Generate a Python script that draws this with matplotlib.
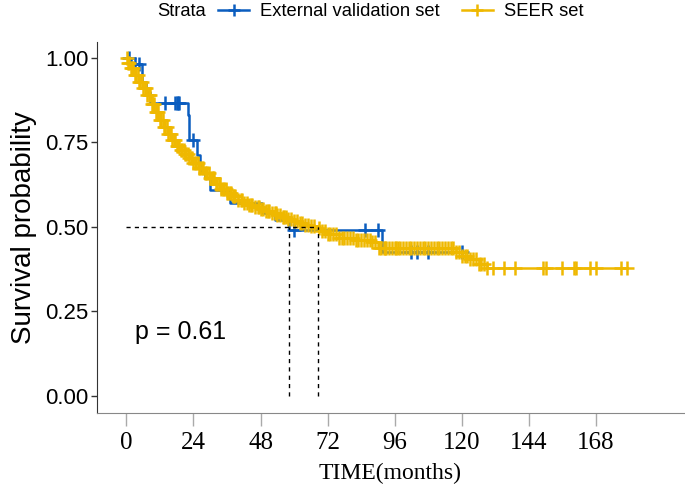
import numpy as np
import matplotlib
matplotlib.use("Agg")
import matplotlib.pyplot as plt
from matplotlib.lines import Line2D

# Kaplan-Meier steps (months, survival probability)
ext_times = [0, 1.5, 5.5, 7, 8.3, 21.9, 22.5, 25.2, 26.2, 28, 30, 37, 48.5, 53, 58.1, 91.5]
ext_surv = [1.0, 0.982, 0.93, 0.90, 0.868, 0.83, 0.757, 0.713, 0.663, 0.645, 0.61, 0.571, 0.541, 0.52, 0.49, 0.426]
ext_censor = [1, 3, 4.5, 13.7, 17.3, 18, 18.4, 19, 23.7, 60, 85.4, 90, 102, 104, 108, 120]

seer_times = [0, 0.5, 1.5, 3, 4.5, 6, 7.5, 9, 10.5, 12, 13.5, 15, 16.5, 18, 19.5, 21, 22.5,
              24, 26, 28, 30, 32, 34, 36, 38, 40, 42, 44, 46, 48, 50, 52, 54, 56, 58, 60,
              62, 64, 66, 68.4, 70, 72, 76, 82, 88, 90, 118, 120, 123, 126, 129]
seer_surv = [1.0, 0.985, 0.97, 0.95, 0.93, 0.91, 0.89, 0.865, 0.84, 0.815, 0.795, 0.775,
             0.757, 0.74, 0.727, 0.715, 0.705, 0.69, 0.675, 0.66, 0.645, 0.627, 0.612, 0.60,
             0.59, 0.58, 0.572, 0.565, 0.559, 0.553, 0.547, 0.54, 0.534, 0.528, 0.522, 0.517,
             0.512, 0.507, 0.502, 0.497, 0.488, 0.478, 0.468, 0.462, 0.455, 0.437, 0.425,
             0.415, 0.405, 0.39, 0.379]
seer_censor = [0.2, 0.5, 1, 1.5, 2, 2.5, 3, 3.5, 4, 4.5, 5, 5.5, 6, 6.5, 7, 7.5, 8, 8.5, 9,
               9.5, 10, 10.5, 11, 11.5, 12, 12.5, 13, 13.5, 14, 14.5, 15, 15.5, 16, 16.5, 17,
               17.5, 18, 18.5, 19, 19.5, 20, 20.5, 21, 21.5, 22, 22.5, 23, 23.5, 24, 24.5, 25,
               25.5, 26, 26.5, 27, 27.5, 28, 28.5, 29, 29.5, 30, 30.5, 31, 31.5, 32, 32.5, 33,
               33.5, 34, 34.5, 35, 35.5, 36, 36.5, 37, 37.5, 38, 38.5, 39, 40, 41, 41.5, 42, 43,
               44, 44.5, 45, 46, 47, 47.5, 48, 49, 50, 50.5, 51, 52, 53, 53.5, 54, 55, 56, 56.5,
               57, 58, 59, 60, 61, 62, 63, 64, 65, 66, 67, 69, 70, 71, 72, 73, 74, 75, 76, 77,
               78, 79, 80, 81, 82, 83, 84, 85, 86, 87, 88, 89, 90.5, 91, 92, 92.5, 93, 94, 95,
               96, 96.5, 97, 98, 99, 100, 101, 102, 103, 104, 105, 106, 107, 108, 109, 110, 111,
               112, 113, 114, 115, 116, 117, 118, 119, 120, 121, 122, 123, 124, 125, 126, 127,
               128, 129, 131, 135, 139, 149, 150, 156, 160, 161, 166, 168, 177, 179]

medians = [58.1, 68.4]
x_ticks = [0, 24, 48, 72, 96, 120, 144, 168]
y_ticks = [0.0, 0.25, 0.5, 0.75, 1.0]
p_text = "p = 0.61"

BLUE = "#0b5dbf"
YELLOW = "#efb800"


def surv_at(times, surv, t):
    idx = np.searchsorted(times, t, side="right") - 1
    return np.asarray(surv)[idx]


fig = plt.figure(figsize=(6.85, 4.91), dpi=100)
ax = fig.add_axes([0.1416, 0.1589, 0.857, 0.7556])

for times, surv, cens, col in [(ext_times, ext_surv, ext_censor, BLUE),
                               (seer_times, seer_surv, seer_censor, YELLOW)]:
    last = max(max(times), max(cens))
    ax.step(list(times) + [last], list(surv) + [surv[-1]], where="post", color=col, lw=1.8)
    ax.plot(cens, surv_at(times, surv, cens), ls="none", marker="+", ms=9.5, mew=1.8, color=col)

# median lines
ax.plot([0, max(medians)], [0.5, 0.5], ls=(0, (3, 3)), color="black", lw=1)
for m in medians:
    ax.plot([m, m], [0, 0.5], ls=(0, (3, 3)), color="black", lw=1)

ax.text(3, 0.19, p_text, fontsize=18, family="Liberation Sans", va="center", ha="left")

ax.set_xlim(-10.5, 199.5)
ax.set_ylim(-0.0503, 1.047)
ax.set_xticks(x_ticks)
ax.set_xticklabels([str(v) for v in x_ticks], family="Liberation Serif", fontsize=18)
ax.set_yticks(y_ticks)
ax.set_yticklabels(["%.2f" % v for v in y_ticks], family="Liberation Sans", fontsize=16)
ax.tick_params(axis="x", length=9, color="#aaaaaa", width=1, pad=5)
ax.tick_params(axis="y", length=4, color="#333333", width=1, pad=2)
for s in ["top", "right"]:
    ax.spines[s].set_visible(False)
ax.spines["bottom"].set_color("#888888")
ax.spines["left"].set_color("#333333")
ax.set_xlabel("TIME(months)", family="Liberation Serif", fontsize=17, labelpad=6)
ax.set_ylabel("Survival probability", family="Liberation Sans", fontsize=20, labelpad=6)

# legend on top
fig.text(157 / 685, 1 - 12 / 491, "Strata", family="Liberation Sans",
         fontsize=13.2, va="center", ha="left")
handles = [Line2D([], [], color=BLUE, lw=1.8, marker="+", ms=9, mew=1.8),
           Line2D([], [], color=YELLOW, lw=1.8, marker="+", ms=9, mew=1.8)]
fig.legend(handles, ["External validation set", "SEER set"], ncol=2, frameon=False,
           loc="center left", bbox_to_anchor=(218 / 685, 1 - 12 / 491),
           prop={"family": "Liberation Sans", "size": 13.2},
           handlelength=1.7, handletextpad=0.6, columnspacing=1.2, borderaxespad=0, borderpad=0)

fig.savefig("out.png", dpi=100)
